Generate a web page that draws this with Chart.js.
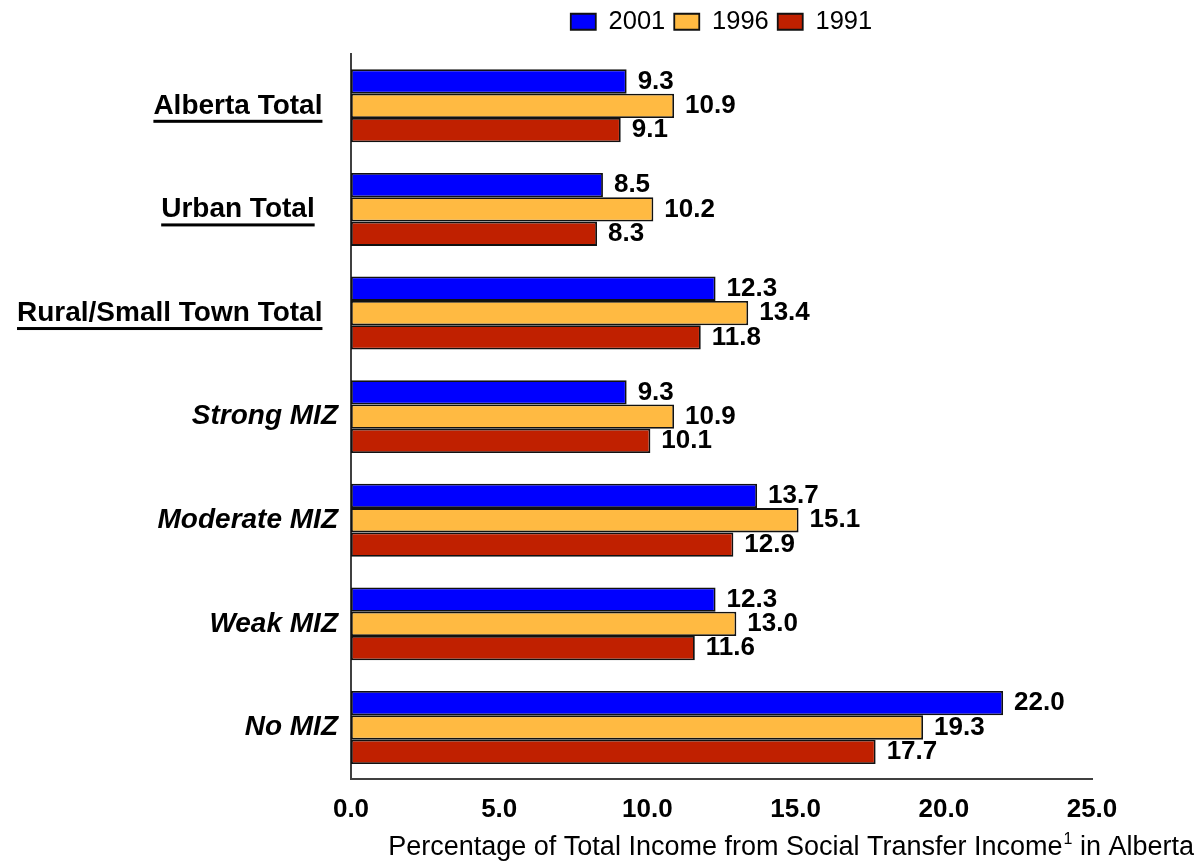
<!DOCTYPE html>
<html>
<head>
<meta charset="utf-8">
<script src="https://cdn.jsdelivr.net/npm/chart.js@4"></script>
<style>
  html, body { margin: 0; padding: 0; background: #fff; }
  #wrap { width: 1196px; height: 863px; }
</style>
</head>
<body>
<div id="wrap"><canvas id="transfer-chart" width="1196" height="863"></canvas></div>
<script>
var categories = ['Alberta Total  ', 'Urban Total   ', 'Rural/Small Town Total  ', 'Strong MIZ', 'Moderate MIZ', 'Weak MIZ', 'No MIZ'];
var years = ['2001', '1996', '1991'];
var values2001 = [9.3, 8.5, 12.3, 9.3, 13.7, 12.3, 22.0];
var values1996 = [10.9, 10.2, 13.4, 10.9, 15.1, 13.0, 19.3];
var values1991 = [9.1, 8.3, 11.8, 10.1, 12.9, 11.6, 17.7];
var xTicks = [0, 5, 10, 15, 20, 25];
var axisTitle = 'Percentage of Total Income from Social Transfer Income';
var axisTitleNote = '1';
var axisTitleEnd = ' in Alberta';

var fontFamily = "'Liberation Sans', Arial, Helvetica, sans-serif";

// extra room between legend and plot
var legendSpacer = {
    id: 'legendSpacer',
    afterInit: function (chart) {
        var fitLegend = chart.legend.fit;
        chart.legend.fit = function () {
            fitLegend.call(this);
            this.height += 9.5;
        };
    }
};

// value labels right of each bar
var barValues = {
    id: 'barValues',
    afterDatasetsDraw: function (chart) {
        var ctx = chart.ctx;
        ctx.save();
        ctx.font = 'bold 26px ' + fontFamily;
        ctx.fillStyle = '#000';
        ctx.textAlign = 'left';
        ctx.textBaseline = 'middle';
        chart.data.datasets.forEach(function (ds, i) {
            var meta = chart.getDatasetMeta(i);
            meta.data.forEach(function (bar, j) {
                ctx.fillText(ds.data[j].toFixed(1), bar.x + 11, bar.y);
            });
        });
        ctx.restore();
    }
};

// underline the total rows and draw the axis title with its footnote mark
var labelExtras = {
    id: 'labelExtras',
    afterDraw: function (chart) {
        var ctx = chart.ctx;
        var yScale = chart.scales.y;
        ctx.save();
        ctx.font = 'bold 28px ' + fontFamily;
        ctx.fillStyle = '#000';
        var right = yScale.right - yScale.options.ticks.padding;
        for (var i = 0; i < 3; i++) {
            var full = ctx.measureText(categories[i]).width;
            var word = ctx.measureText(categories[i].trim()).width;
            var y = yScale.getPixelForTick(i);
            ctx.fillRect(right - full, y + 14, word, 3);
        }

        ctx.textBaseline = 'alphabetic';
        ctx.textAlign = 'left';
        ctx.font = '27px ' + fontFamily;
        var w1 = ctx.measureText(axisTitle).width;
        var w3 = ctx.measureText(axisTitleEnd).width;
        ctx.font = '16px ' + fontFamily;
        var w2 = ctx.measureText(axisTitleNote).width;
        var x = 1193 - (w1 + w2 + w3);
        var base = 855;
        ctx.font = '27px ' + fontFamily;
        ctx.fillText(axisTitle, x, base);
        ctx.font = '16px ' + fontFamily;
        ctx.fillText(axisTitleNote, x + w1 + 1, base - 11);
        ctx.font = '27px ' + fontFamily;
        ctx.fillText(axisTitleEnd, x + w1 + w2 + 1, base);
        ctx.restore();
    }
};

var chartData = {
    labels: categories,
    datasets: [{
        label: years[0],
        data: values2001,
        backgroundColor: '#0000FF',
        borderColor: '#111',
        borderWidth: 1.8
    },
    {
        label: years[1],
        data: values1996,
        backgroundColor: '#FFBA42',
        borderColor: '#111',
        borderWidth: 1.8
    },
    {
        label: years[2],
        data: values1991,
        backgroundColor: '#C02000',
        borderColor: '#111',
        borderWidth: 1.8
    }]
};

var context = document.getElementById('transfer-chart').getContext('2d');
var transferChart = new Chart(context, {
    type: 'bar',
    data: chartData,
    plugins: [legendSpacer, barValues, labelExtras],
    options: {
        indexAxis: 'y',
        responsive: false,
        animation: false,
        layout: {
            padding: { left: 0, right: 104, top: 0, bottom: 23.5 }
        },
        datasets: {
            bar: {
                categoryPercentage: 0.704,
                barPercentage: 1.0,
                borderSkipped: false
            }
        },
        plugins: {
            legend: {
                display: true,
                position: 'top',
                fullSize: false,
                labels: {
                    boxWidth: 25,
                    boxHeight: 16,
                    padding: 9,
                    color: '#000',
                    font: { family: fontFamily, size: 25.5 }
                }
            },
            tooltip: { enabled: false }
        },
        scales: {
            x: {
                min: 0,
                max: 25,
                afterBuildTicks: function (scale) {
                    scale.ticks = xTicks.map(function (v) { return { value: v }; });
                },
                grid: { display: false, drawTicks: false },
                border: { display: true, color: '#404040', width: 2 },
                ticks: {
                    padding: 14.5,
                    color: '#000',
                    font: { family: fontFamily, size: 26, weight: 'bold' },
                    callback: function (value) { return Number(value).toFixed(1); }
                }
            },
            y: {
                afterFit: function (scale) {
                    scale.width = 351;
                },
                grid: { display: false, drawTicks: false },
                border: { display: true, color: '#404040', width: 2 },
                ticks: {
                    padding: 13,
                    autoSkip: false,
                    color: '#000',
                    font: function (ctx) {
                        return {
                            family: fontFamily,
                            size: 28,
                            weight: 'bold',
                            style: ctx.index >= 3 ? 'italic' : 'normal'
                        };
                    }
                }
            }
        }
    }
});
</script>
</body>
</html>
